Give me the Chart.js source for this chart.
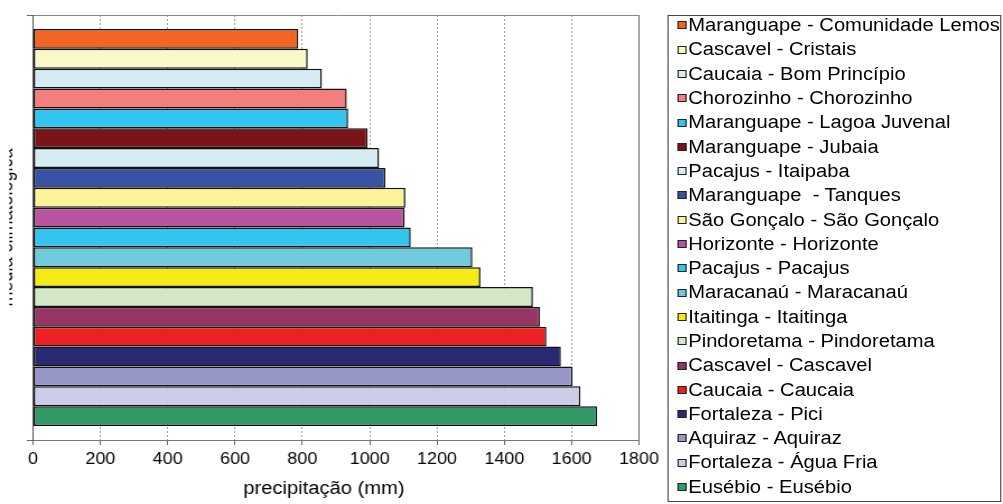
<!DOCTYPE html>
<html lang="pt-br">
<head>
<meta charset="UTF-8">
<title>Precipitação média climatológica</title>
<script src="https://cdn.jsdelivr.net/npm/chart.js"></script>
<style>
  html, body { margin: 0; padding: 0; background: #fff; }
  body { width: 1003px; height: 504px; overflow: hidden; }
  /* o gráfico original é um pouco esticado na horizontal */
  .quadro { position: relative; width: 896px; height: 504px; transform: scaleX(1.12); transform-origin: 0 0;
            font-family: "Liberation Sans", Arial, sans-serif; }
  #grafico { position: absolute; left: 0; top: 0; }
  .moldura { position: absolute; left: 595.8px; top: 15px; width: 298px; height: 486.7px;
             border: 1px solid #444; box-sizing: border-box; }
  #legenda { position: absolute; left: 605.4px; top: 13.15px; }
  .item { height: 24.3px; line-height: 24.3px; font-size: 18px; color: #000; white-space: pre; }
  .caixa { display: inline-block; width: 7.3px; height: 8px; border: 1px solid #222; box-sizing: border-box;
           margin-right: 1.8px; vertical-align: middle; position: relative; top: -1px; }
</style>
</head>
<body>
  <div class="quadro">
    <canvas id="grafico" width="590" height="504"></canvas>
    <div class="moldura"></div>
    <div id="legenda"></div>
  </div>

<script>
  const estacoes = [
    "Maranguape - Comunidade Lemos",
    "Cascavel - Cristais",
    "Caucaia - Bom Princípio",
    "Chorozinho - Chorozinho",
    "Maranguape - Lagoa Juvenal",
    "Maranguape - Jubaia",
    "Pacajus - Itaipaba",
    "Maranguape  - Tanques",
    "São Gonçalo - São Gonçalo",
    "Horizonte - Horizonte",
    "Pacajus - Pacajus",
    "Maracanaú - Maracanaú",
    "Itaitinga - Itaitinga",
    "Pindoretama - Pindoretama",
    "Cascavel - Cascavel",
    "Caucaia - Caucaia",
    "Fortaleza - Pici",
    "Aquiraz - Aquiraz",
    "Fortaleza - Água Fria",
    "Eusébio - Eusébio"
  ];

  const precipitacao = [788, 816, 858, 932, 936, 994, 1028, 1047, 1106, 1104,
                        1122, 1305, 1329, 1485, 1506, 1525, 1568, 1603, 1626, 1676];

  const cores = [
    "#f26522", "#faf7c8", "#d4ecf2", "#f37e80", "#33c5f0",
    "#7b1416", "#d4ecf2", "#3953a4", "#faf39a", "#b8559e",
    "#33c5f0", "#6fcbdc", "#f4eb14", "#d2e8c6", "#983564",
    "#ed2024", "#292a73", "#9696c9", "#cdcce8", "#339966"
  ];

  const eixoXMin = 0;
  const eixoXMax = 1800;
  const eixoXPasso = 200;

  const tituloX = "precipitação (mm)";
  const tituloY = "média climatológica";

  const fonte = '"Liberation Sans", Arial, sans-serif';

  // titulos dos eixos (o do eixo y fica cortado na borda, como no original)
  const titulos = {
    id: "titulos",
    afterDraw(chart) {
      const ctx = chart.ctx;
      const area = chart.chartArea;
      ctx.save();
      ctx.fillStyle = "#000";
      ctx.font = "18px " + fonte;
      ctx.textAlign = "center";
      ctx.textBaseline = "middle";
      ctx.fillText(tituloX, 289.3, 489);

      ctx.beginPath();
      ctx.rect(8.3, 0, 30, chart.height);
      ctx.clip();
      ctx.translate(10.6, (area.top + area.bottom) / 2);
      ctx.rotate(-Math.PI / 2);
      ctx.textBaseline = "alphabetic";
      ctx.fillText(tituloY, 0, 0);
      ctx.restore();
    }
  };

  const dados = {
    labels: [""],
    datasets: estacoes.map(function (nome, i) {
      return {
        label: nome,
        data: [precipitacao[i]],
        backgroundColor: cores[i],
        borderColor: "#111",
        borderWidth: 1.5,
        borderSkipped: false,
        categoryPercentage: 0.934,
        barPercentage: 1
      };
    })
  };

  const config = {
    type: "bar",
    data: dados,
    options: {
      indexAxis: "y",
      responsive: false,
      animation: false,
      layout: { padding: { top: 15, right: 19.5, bottom: 0, left: 0 } },
      plugins: {
        legend: { display: false },
        tooltip: { enabled: false }
      },
      scales: {
        x: {
          min: eixoXMin,
          max: eixoXMax,
          ticks: {
            stepSize: eixoXPasso,
            color: "#000",
            font: { family: fonte, size: 16 },
            padding: 5,
            maxRotation: 0,
            callback: function (v) { return String(v); }
          },
          grid: {
            color: function (c) {
              return c.tick && c.tick.value === eixoXMax ? "#666" : "#a0a0a0";
            },
            tickColor: "#666",
            tickLength: 5,
            tickBorderDash: []
          },
          border: {
            color: "#777",
            dash: function (c) {
              if (!c.tick) return [];
              return (c.tick.value === eixoXMin || c.tick.value === eixoXMax) ? [] : [2, 2];
            }
          },
          afterFit: function (escala) {
            escala.height = 64;
            escala.paddingLeft = 0;
            escala.paddingRight = 0;
          }
        },
        y: {
          ticks: { display: false },
          grid: { color: "#888", tickColor: "#666", tickLength: 5.5, offset: true },
          border: { color: "#555" },
          afterFit: function (escala) { escala.width = 29.5; }
        }
      }
    },
    plugins: [titulos]
  };

  new Chart(document.getElementById("grafico"), config);

  // legenda em html, montada a partir dos mesmos arrays
  const legenda = document.getElementById("legenda");
  for (let i = 0; i < estacoes.length; i++) {
    const item = document.createElement("div");
    item.className = "item";
    const caixa = document.createElement("span");
    caixa.className = "caixa";
    caixa.style.background = cores[i];
    item.appendChild(caixa);
    item.appendChild(document.createTextNode(estacoes[i]));
    legenda.appendChild(item);
  }
</script>
</body>
</html>
